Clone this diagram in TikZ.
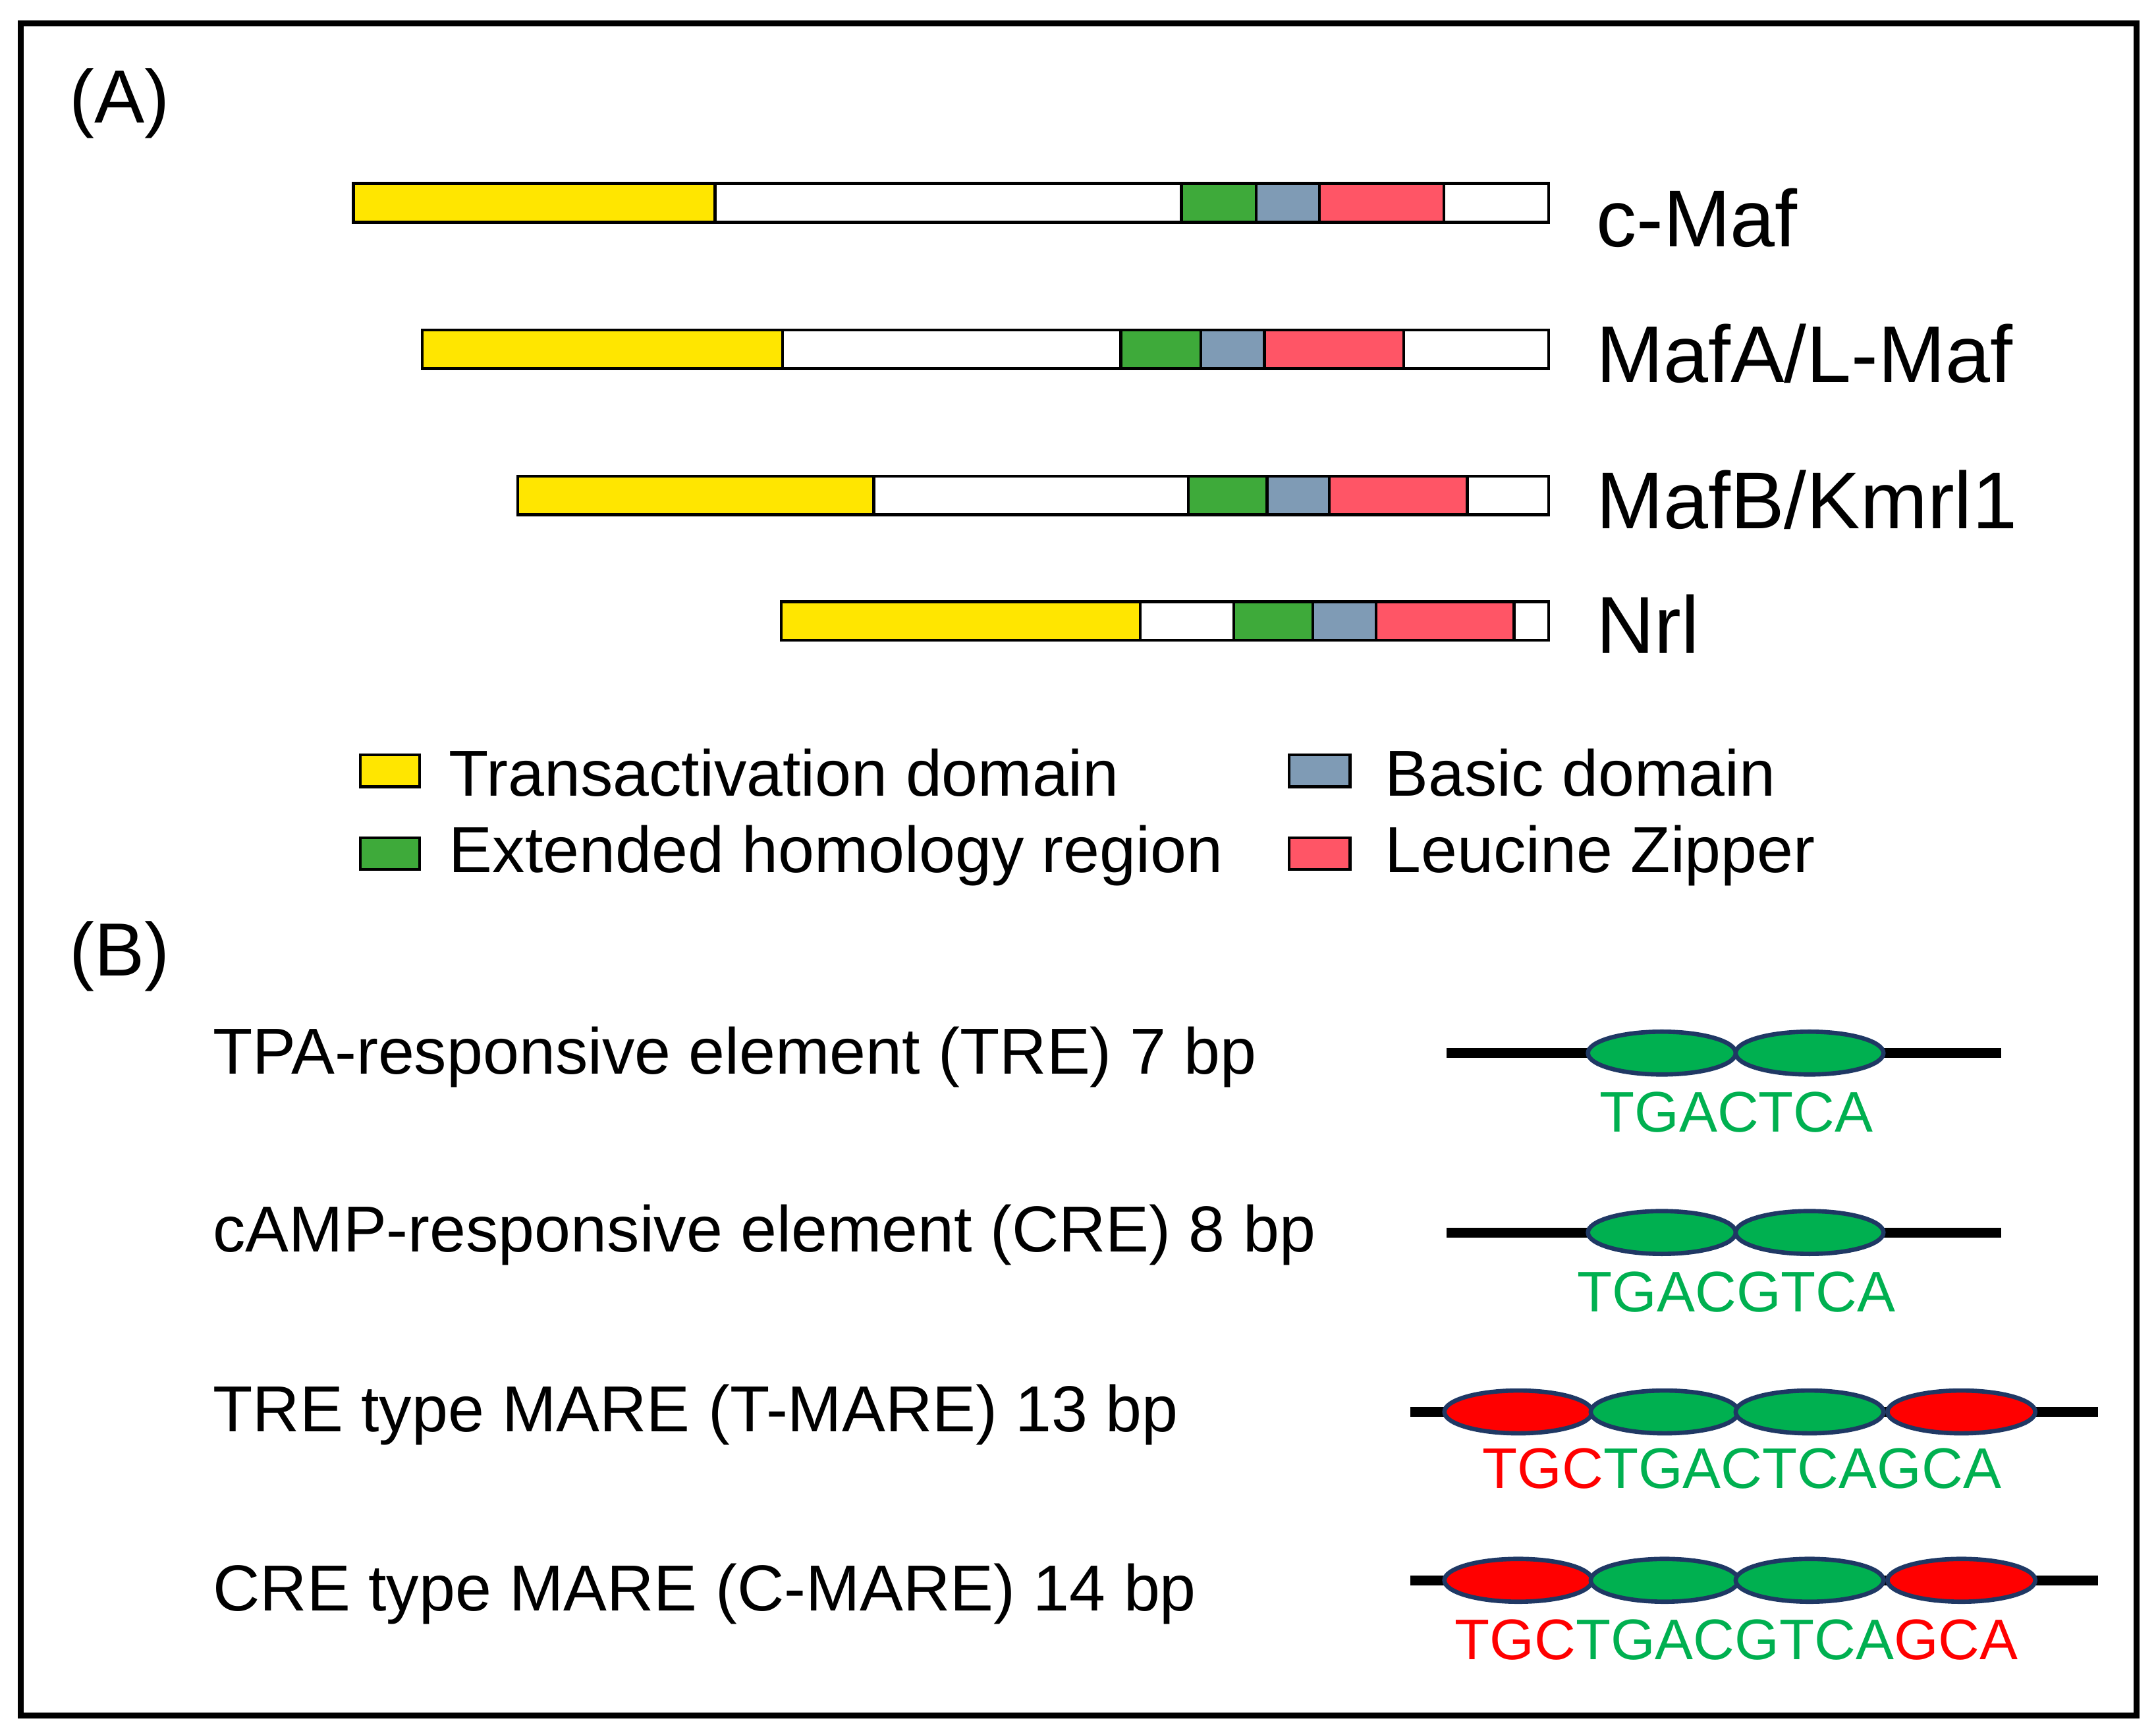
\documentclass[tikz,border=0pt]{standalone}
\usepackage{fontspec}
\setmainfont{Liberation Sans}
\usetikzlibrary{positioning,shapes.geometric}
\definecolor{tadY}{HTML}{FFE600}
\definecolor{ehrG}{HTML}{3EAA3A}
\definecolor{basB}{HTML}{7F9BB5}
\definecolor{lzR}{HTML}{FF5566}
\definecolor{siteG}{HTML}{00B050}
\definecolor{siteR}{HTML}{FF0000}
\definecolor{rim}{HTML}{1F3864}
\tikzset{
  dom/.style={draw,line width=0.6pt},
  prot/.style={anchor=west,font=\fontsize{16.6}{20}\selectfont},
  leg/.style={anchor=west,font=\fontsize{13.4}{16}\selectfont},
  site/.style={ellipse,draw=rim,line width=0.9pt,minimum width=1.07cm,minimum height=0.31cm,inner sep=0pt},
  seq/.style={font=\fontsize{11.8}{14}\selectfont,inner sep=0pt}
}
% bar: y, then x-borders of the six parts
\newcommand{\mafbar}[8]{%
  \fill[tadY] (#2,-#1) rectangle (#3,-#1-28);
  \fill[ehrG] (#4,-#1) rectangle (#5,-#1-28);
  \fill[basB] (#5,-#1) rectangle (#6,-#1-28);
  \fill[lzR]  (#6,-#1) rectangle (#7,-#1-28);
  \foreach \xa/\xb in {#2/#3,#3/#4,#4/#5,#5/#6,#6/#7,#7/#8} \draw[dom] (\xa,-#1) rectangle (\xb,-#1-28);
}
\begin{document}
\begin{tikzpicture}[x=0.01cm,y=0.01cm]
\useasboundingbox (0,0) rectangle (1562,-1254);
\draw[line width=1.2pt] (15,-17) rectangle (1548,-1243);
\node[leg,font=\fontsize{15.5}{18}\selectfont] (lblA) at (38,-75) {(A)};
\node[leg,font=\fontsize{15.5}{18}\selectfont] (lblB) at (38,-693) {(B)};
% proteins
\mafbar{133}{256}{518}{856}{910}{956}{1046}{1122}
\mafbar{239}{306}{567}{812}{870}{916}{1017}{1122}
\mafbar{345}{375}{633}{861}{918}{963}{1063}{1122}
\mafbar{436}{566}{826}{894}{951}{997}{1097}{1122}
\node[prot] (cmaf) at (1144,-158) {c-Maf};
\node[prot] (mafa) at (1144,-256) {MafA/L-Maf};
\node[prot] (mafb) at (1144,-362) {MafB/Kmrl1};
\node[prot] (nrl)  at (1144,-452) {Nrl};
% legend
\draw[dom,fill=tadY] (261,-547) rectangle (304,-570);
\draw[dom,fill=ehrG] (261,-607) rectangle (304,-630);
\draw[dom,fill=basB] (934,-547) rectangle (978,-570);
\draw[dom,fill=lzR]  (934,-607) rectangle (978,-630);
\node[leg] (legta) at (313,-560) {Transactivation domain};
\node[leg] (legeh) at (313,-620) {Extended homology region};
\node[leg] (legbd) at (991,-560) {Basic domain};
\node[leg] (leglz) at (991,-620) {Leucine Zipper};
% elements
\node[leg] (tre)  at (142,-766) {TPA-responsive element (TRE) 7 bp};
\node[leg] (cre)  at (142,-895) {cAMP-responsive element (CRE) 8 bp};
\node[leg] (tmar) at (142,-1025) {TRE type MARE (T-MARE) 13 bp};
\node[leg] (cmar) at (142,-1155) {CRE type MARE (C-MARE) 14 bp};
\foreach \y/\n in {763/a,893/b} {
  \coordinate (l\n) at (1048,-\y); \coordinate (r\n) at (1450,-\y);
  \draw[line width=2pt] (l\n) -- (r\n);
  \node[site,fill=siteG] (s\n1) at (1204,-\y) {};
  \node[site,fill=siteG] (s\n2) at (1311,-\y) {};
}
\foreach \y/\n in {1023/c,1145/d} {
  \coordinate (l\n) at (1022,-\y); \coordinate (r\n) at (1520,-\y);
  \draw[line width=2pt] (l\n) -- (r\n);
  \node[site,fill=siteR] (s\n1) at (1100,-\y) {};
  \node[site,fill=siteG] (s\n2) at (1206,-\y) {};
  \node[site,fill=siteG] (s\n3) at (1311,-\y) {};
  \node[site,fill=siteR] (s\n4) at (1421,-\y) {};
}
\node[seq,text=siteG] (qa) at (1258,-806) {TGACTCA};
\node[seq,text=siteG] (qb) at (1258,-936) {TGACGTCA};
\node[seq] (qc) at (1262,-1064) {\color{siteR}TGC\color{siteG}TGACTCAGCA};
\node[seq] (qd) at (1258,-1188) {\color{siteR}TGC\color{siteG}TGACGTCA\color{siteR}GCA};
\end{tikzpicture}
\end{document}
